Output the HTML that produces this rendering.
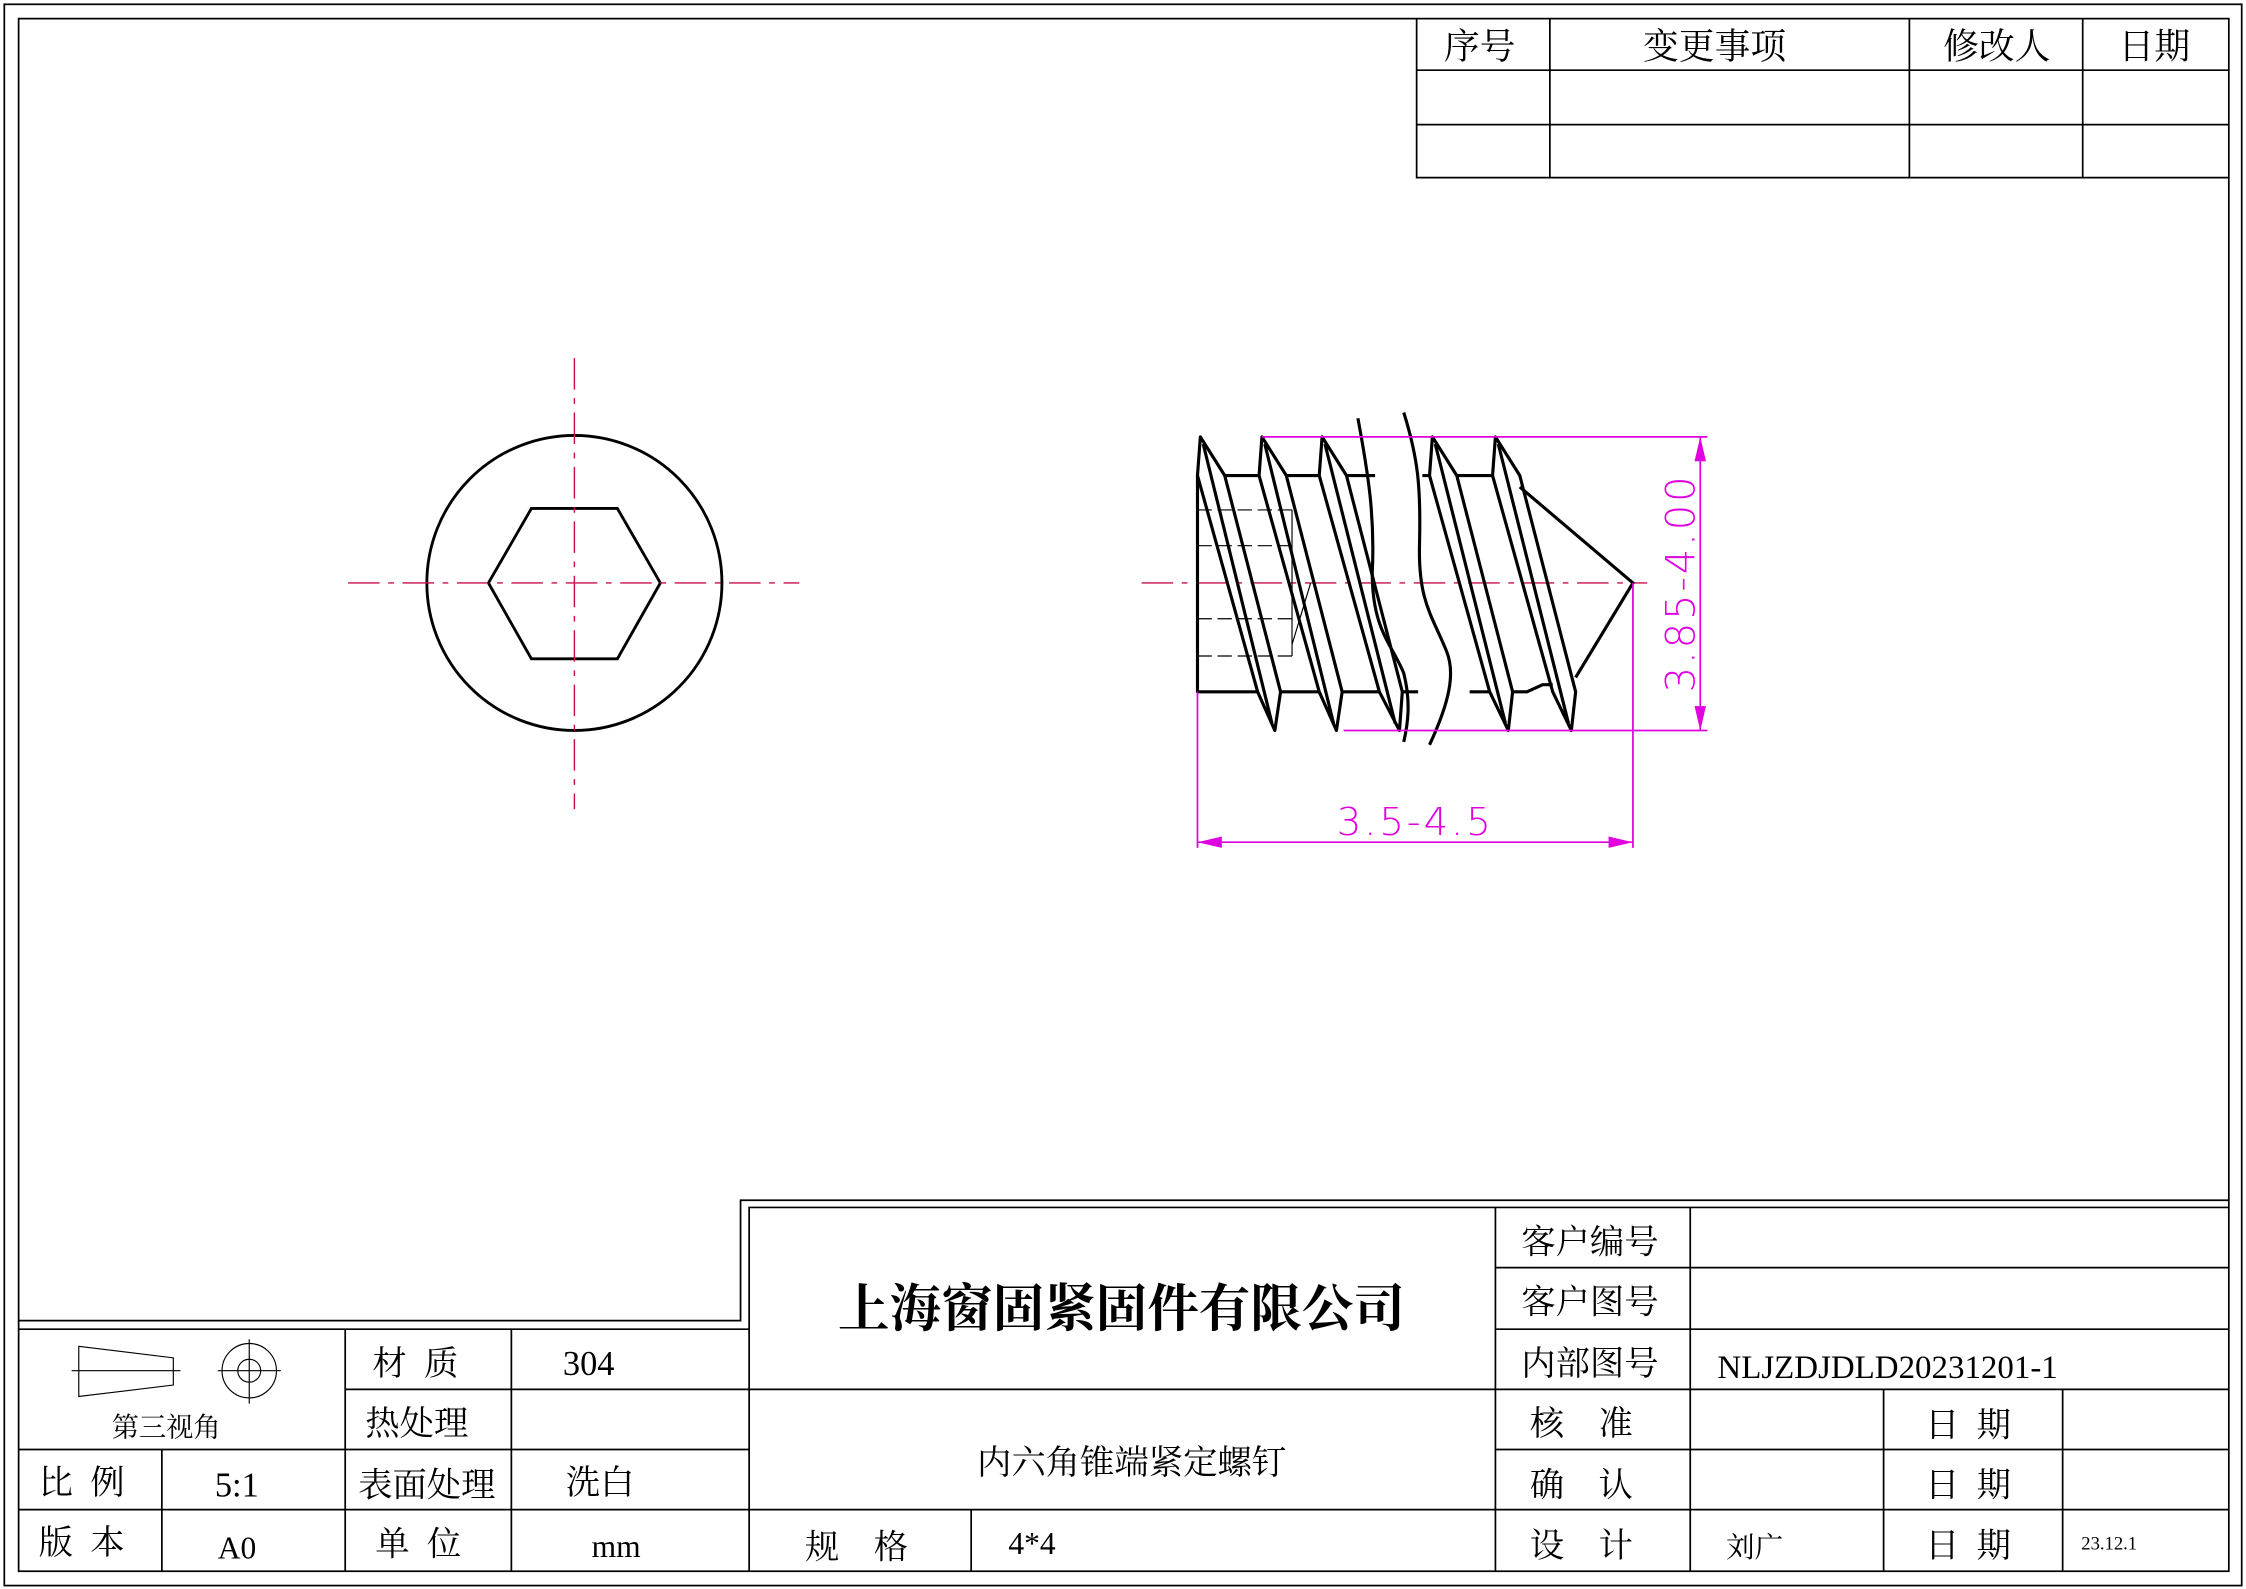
<!DOCTYPE html>
<html><head><meta charset="utf-8"><style>
html,body{margin:0;padding:0;background:#fff;}
svg{display:block;}
text{font-family:"Liberation Serif","Noto Serif CJK SC",serif;fill:#000;white-space:pre;}
</style></head><body>
<svg width="2246" height="1589" viewBox="0 0 1568 1109.4" preserveAspectRatio="none" xmlns="http://www.w3.org/2000/svg" xml:space="preserve">
<g fill="none" stroke="#000" stroke-width="1.2">
<rect x="3" y="3" width="1562" height="1104"/>
<rect x="13" y="13" width="1543" height="1084"/>
<path d="M989 13V124H1556M989 49H1556M989 87H1556M1082 13V124M1333 13V124M1454 13V124"/>
<path d="M13 922H517V838H1556M13 928H523V843H1556"/>
<path d="M241 928V1097M357 928V1097M13 1012H523M241 970H523M13 1054H523M113 1012V1097"/>
<path d="M523 928V1097M523 970H1044M523 1054H1044M678 1054V1097"/>
<path d="M1044 843V1097M1180 843V1097M1044 885H1556M1044 928H1556M1044 970H1556M1044 1012H1556M1044 1054H1556M1315 970V1097M1440 970V1097"/>
<path d="M55 940L121 948V967L55 975Z M50 957H126" stroke-width="0.8"/>
<circle cx="174" cy="957" r="19" stroke-width="0.8"/>
<circle cx="174" cy="957" r="8" stroke-width="0.8"/>
<path d="M152 957H196M174 935V980" stroke-width="0.8"/>
</g>
<g fill="none" stroke="#000" stroke-width="2">
<circle cx="401" cy="407" r="103"/>
<path d="M341 407L371 355H431L461 407L431 460H371Z"/>
</g>
<g stroke="#c8104a" stroke-width="1" stroke-dasharray="22 6 4 6" fill="none">
<path d="M243 407H558M401 250V565M797 407H1150"/>
</g>
<g fill="none" stroke="#000" stroke-width="2.2" stroke-linejoin="round">
<path d="M838 305L836 332L878 483L890 510L894 483L855 332Z M840 310L888 505"/>
<path d="M881 305L879 332L921 483L933 510L937 483L898 332Z M883 310L931 505"/>
<path d="M923 305L921 332L963 483L977 510L979 483L940 332Z M925 310L974 505"/>
<path d="M1000 305L998 332L1040 483L1053 510L1056 483L1017 332Z M1002 310L1051 505"/>
<path d="M1044 305L1042 332L1084 483L1097 510L1100 483L1061 332Z M1046 310L1095 505"/>
<path d="M855 332H879M898 332H921M940 332H960M993 332H998M1017 332H1042"/>
<path d="M836 332V483H878M894 483H921M937 483H963M979 483H990M1026 483H1040M1056 483H1066L1077 478L1084 478"/>
<path d="M1061 340L1140 407L1100 473"/>
<path d="M948 292C955 330 960 360 958 400C958 440 972 450 980 470C985 490 983 505 980 518"/>
<path d="M980 288C990 320 992 340 991 380C990 420 1000 430 1010 455C1016 470 1012 490 998 520"/>
</g>
<g stroke="#000" stroke-width="0.8" fill="none">
<path d="M836 356H902M836 381H902M836 432H902M836 458H902" stroke-dasharray="10 4"/>
<path d="M902 356V458M902 450L915 407"/>
</g>
<g stroke="#e000e0" stroke-width="1.2" fill="none">
<path d="M881 305H1192M938 510H1192M1187 305V510"/>
<path d="M836 483V592M1140 407V592M836 588H1140"/>
</g>
<g fill="#e000e0">
<path d="M1187 305L1183 322H1191Z M1187 510L1183 493H1191Z"/>
<path d="M836 588L853 584V592Z M1140 588L1123 584V592Z"/>
</g>
<text x="988" y="583" font-size="27" text-anchor="middle" style="fill:#e000e0;font-family:'DejaVu Sans',sans-serif;font-weight:200" letter-spacing="2">3.5-4.5</text>
<text transform="translate(1183 407) rotate(-90)" font-size="28" text-anchor="middle" style="fill:#e000e0;font-family:'DejaVu Sans',sans-serif;font-weight:200" letter-spacing="2">3.85-4.00</text>
<g font-size="25" text-anchor="middle">
<text x="1033" y="41">序号</text>
<text x="1197" y="41">变更事项</text>
<text x="1394" y="41">修改人</text>
<text x="1504" y="41">日期</text>
</g>
<text x="783" y="926" font-size="36" font-weight="bold" text-anchor="middle" style="font-family:'Noto Serif CJK SC',serif">上海窗固紧固件有限公司</text>
<text x="790" y="1029" font-size="24" text-anchor="middle">内六角锥端紧定螺钉</text>
<g font-size="24">
<text x="116" y="1003" font-size="19" text-anchor="middle">第三视角</text>
<text x="260" y="960">材  质</text>
<text x="393" y="960">304</text>
<text x="255" y="1002">热处理</text>
<text x="27" y="1043">比  例</text>
<text x="150" y="1045">5:1</text>
<text x="250" y="1045">表面处理</text>
<text x="395" y="1043">洗白</text>
<text x="27" y="1085">版  本</text>
<text x="152" y="1088" font-size="22">A0</text>
<text x="262" y="1086">单  位</text>
<text x="413" y="1087" font-size="22">mm</text>
<text x="562" y="1088">规    格</text>
<text x="704" y="1085" font-size="22">4*4</text>
<text x="1062" y="875">客户编号</text>
<text x="1062" y="917">客户图号</text>
<text x="1062" y="960">内部图号</text>
<text x="1199" y="962" font-size="23">NLJZDJDLD20231201-1</text>
<text x="1068" y="1002">核    准</text>
<text x="1068" y="1045">确    认</text>
<text x="1068" y="1087">设    计</text>
<text x="1205" y="1087" font-size="20">刘广</text>
<text x="1344" y="1003">日  期</text>
<text x="1344" y="1045">日  期</text>
<text x="1344" y="1087">日  期</text>
<text x="1453" y="1082" font-size="13">23.12.1</text>
</g>
</svg>
</body></html>
